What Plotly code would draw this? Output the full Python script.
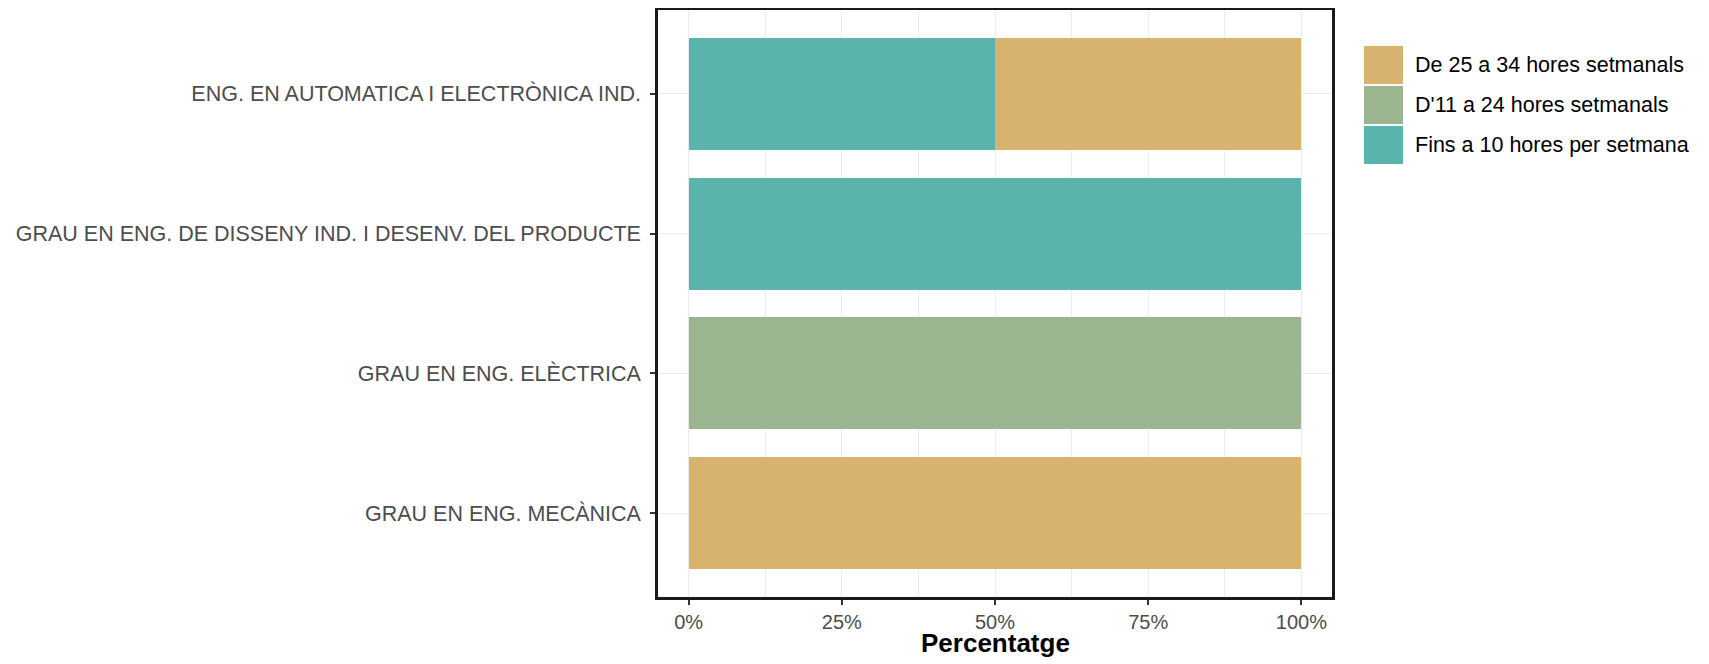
import plotly.graph_objects as go

categories = [
    "ENG. EN AUTOMATICA I ELECTRÒNICA IND.",
    "GRAU EN ENG. DE DISSENY IND. I DESENV. DEL PRODUCTE",
    "GRAU EN ENG. ELÈCTRICA",
    "GRAU EN ENG. MECÀNICA",
]
series_names = ["Fins a 10 hores per setmana", "D'11 a 24 hores setmanals", "De 25 a 34 hores setmanals"]
fins_10 = [0.5, 1.0, 0.0, 0.0]
d11_24 = [0.0, 0.0, 1.0, 0.0]
de25_34 = [0.5, 0.0, 0.0, 1.0]
series_values = [fins_10, d11_24, de25_34]
colors = ["#5AB4AC", "#9AB590", "#D8B370"]
x_ticks = [0, 0.25, 0.5, 0.75, 1.0]
x_tick_labels = ["0%", "25%", "50%", "75%", "100%"]

# page body has an 8px margin; figure coordinates are offset accordingly
OFF = 8
W, H = 1709, 664
L, R, T, B = 658 - OFF, 1332 - OFF, 2, 597 - OFF

fig = go.Figure()
for name, vals, col in zip(series_names, series_values, colors):
    fig.add_trace(go.Bar(
        y=categories, x=vals, name=name, orientation="h",
        marker=dict(color=col, line=dict(width=0)), width=0.8, showlegend=False,
    ))

def px_x(x):
    return (x - OFF - L) / (R - L)

def px_y(y):
    return (B - (y - OFF)) / (B - T)

# custom legend (reverse order: top is De 25 a 34)
leg_order = list(range(len(series_names)))[::-1]
shapes = []
annotations = []
key_top = 46
step = 40
for i, idx in enumerate(leg_order):
    y0 = key_top + i * step
    y1 = y0 + 38
    shapes.append(dict(type="rect", xref="paper", yref="paper",
                       x0=px_x(1364), x1=px_x(1403), y0=px_y(y1), y1=px_y(y0),
                       fillcolor=colors[idx], line=dict(width=0)))
    annotations.append(dict(xref="paper", yref="paper", x=px_x(1413), y=px_y((y0 + y1) / 2),
                            text=series_names[idx], showarrow=False, xanchor="left", yanchor="middle",
                            font=dict(family="Liberation Sans", size=21.5, color="black")))

# x axis title
annotations.append(dict(xref="paper", yref="paper", x=0.5, y=px_y(643), text="<b>Percentatge</b>",
                        showarrow=False, xanchor="center", yanchor="middle",
                        font=dict(family="Liberation Sans", size=26, color="black")))

fig.update_layout(
    width=W, height=H,
    margin=dict(l=L, r=W - R, t=T, b=H - B),
    barmode="stack",
    plot_bgcolor="white", paper_bgcolor="white",
    font=dict(family="Liberation Sans"),
    bargap=0.2,
    shapes=shapes,
    annotations=annotations,
    xaxis=dict(
        range=[-0.05, 1.05], tickvals=x_ticks, ticktext=x_tick_labels,
        showgrid=True, gridcolor="#EBEBEB", gridwidth=1.1,
        minor=dict(dtick=0.125, tick0=0, showgrid=True, gridcolor="#EBEBEB", gridwidth=0.6),
        ticks="outside", ticklen=5, tickcolor="#333333", tickwidth=2,
        tickfont=dict(size=20, color="#4D4D4D"),
        showline=True, mirror=True, linecolor="#1A1A1A", linewidth=2.5,
        zeroline=False, automargin=False,
    ),
    yaxis=dict(
        type="category", categoryorder="array", categoryarray=categories,
        range=[3.6, -0.6],
        showgrid=True, gridcolor="#EBEBEB", gridwidth=1.1,
        ticks="outside", ticklen=5, tickcolor="#333333", tickwidth=2,
        ticklabelstandoff=5,
        tickfont=dict(size=21.5, color="#4D4D4D"),
        showline=True, mirror=True, linecolor="#1A1A1A", linewidth=2.5,
        zeroline=False, automargin=False,
    ),
)

fig.write_html("out.html")
